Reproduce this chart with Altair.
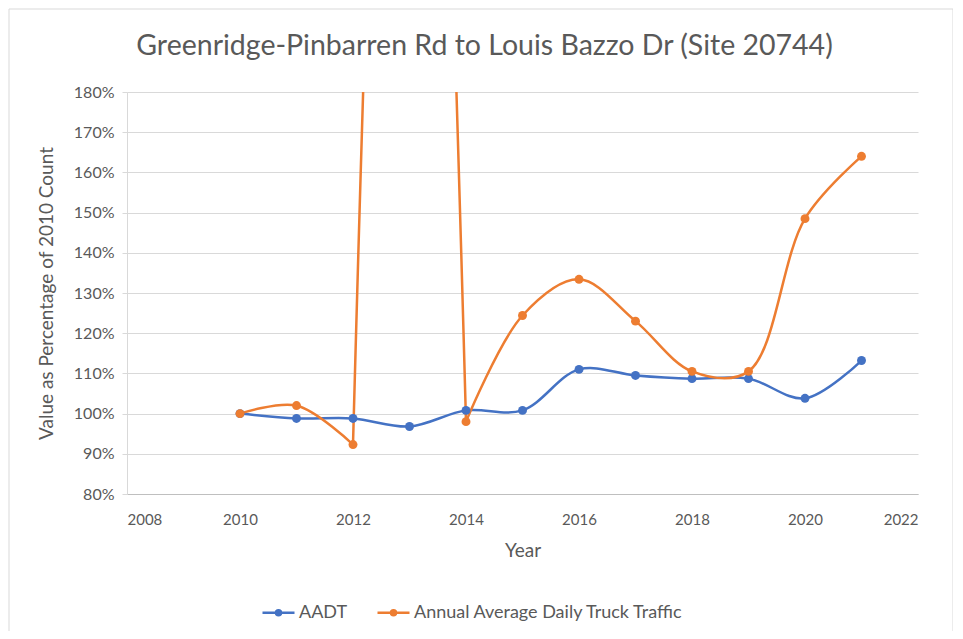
import altair as alt
import pandas as pd

years = [2010, 2011, 2012, 2013, 2014, 2015, 2016, 2017, 2018, 2019, 2020, 2021]
aadt = [1.000, 0.988, 0.988, 0.968, 1.008, 1.008, 1.110, 1.095, 1.087, 1.087, 1.038, 1.132]
truck = [1.000, 1.020, 0.923, 4.40, 0.980, 1.244, 1.334, 1.230, 1.105, 1.105, 1.485, 1.640]
series_names = ["AADT", "Annual Average Daily Truck Traffic"]
colors = ["#4472C4", "#ED7D31"]
y_ticks = [0.8, 0.9, 1.0, 1.1, 1.2, 1.3, 1.4, 1.5, 1.6, 1.7, 1.8]
x_ticks = [2008, 2010, 2012, 2014, 2016, 2018, 2020, 2022]
# the orange curve is drawn in pieces so the off-scale 2013 spike keeps its wide shape
spike_years = [2012, 2013, 2014]

pts_rows = []
for y, v in zip(years, aadt):
    pts_rows.append({"Year": y, "Value": v, "Series": series_names[0]})
for y, v in zip(years, truck):
    pts_rows.append({"Year": y, "Value": v, "Series": series_names[1]})
pts_df = pd.DataFrame(pts_rows)

line_rows = []
for y, v in zip(years, aadt):
    line_rows.append({"Year": y, "Value": v, "Series": series_names[0], "Piece": "a"})
for y, v in zip(years, truck):
    if y <= spike_years[0]:
        line_rows.append({"Year": y, "Value": v, "Series": series_names[1], "Piece": "b1"})
    if y >= spike_years[-1]:
        line_rows.append({"Year": y, "Value": v, "Series": series_names[1], "Piece": "b3"})
    if y in spike_years:
        line_rows.append({"Year": y, "Value": v, "Series": series_names[1], "Piece": "spike"})
line_df = pd.DataFrame(line_rows)

FONT = "Lato"
GRAY = "#595959"

x = alt.X("Year:Q", scale=alt.Scale(domain=[2008, 2022], nice=False),
          axis=alt.Axis(values=x_ticks, format="d", title="Year", grid=False,
                        ticks=False, domainColor="#bfbfbf", labelPadding=18,
                        titlePadding=14))
y = alt.Y("Value:Q", scale=alt.Scale(domain=[0.8, 1.8], nice=False, zero=False),
          axis=alt.Axis(values=y_ticks, format=".0%", title="Value as Percentage of 2010 Count",
                        gridColor="#d9d9d9", ticks=True, tickColor="#d9d9d9", tickSize=5,
                        domainColor="#d9d9d9", labelPadding=8, labelFontSize=16,
                        titlePadding=17))
color = alt.Color("Series:N", scale=alt.Scale(domain=series_names, range=colors),
                  legend=alt.Legend(orient="none", legendX=140, legendY=509, direction="horizontal",
                                    title=None, labelLimit=0,
                                    symbolType="M-1.6,0H1.6M-0.25,0A0.25,0.25,0,1,0,0.25,0A0.25,0.25,0,1,0,-0.25,0",
                                    symbolSize=400, symbolStrokeWidth=2.5, columnPadding=24,
                                    labelFontSize=18, labelColor=GRAY, labelFont=FONT,
                                    labelOffset=9))

lbase = alt.Chart(line_df)
line_main = lbase.transform_filter(alt.datum.Piece != "spike").mark_line(
    interpolate="catmull-rom", strokeWidth=2.5, clip=True
).encode(x=x, y=y, color=color, detail="Piece:N")
line_spike = lbase.transform_filter(alt.datum.Piece == "spike").mark_line(
    interpolate="cardinal", strokeWidth=2.5, clip=True
).encode(x=x, y=y, color=color, detail="Piece:N")
pts = alt.Chart(pts_df).mark_point(filled=True, size=80, opacity=1, clip=True).encode(
    x=x, y=y, color=color)

border = alt.Chart(pd.DataFrame({"a": [0]})).mark_rect(
    fill=None, stroke="#d9d9d9", strokeWidth=1, clip=False
).encode(x=alt.value(-118), x2=alt.value(826), y=alt.value(-83), y2=alt.value(540))

chart = alt.layer(border, line_main, line_spike, pts).properties(
    width=791, height=402,
    title=alt.TitleParams("Greenridge-Pinbarren Rd to Louis Bazzo Dr (Site 20744)",
                          fontSize=28.5, font=FONT, color=GRAY, fontWeight="normal",
                          anchor="middle", frame="group", dx=-38, offset=-52),
    autosize=alt.AutoSizeParams(type="none"),
    padding={"left": 119, "top": 84, "right": 35, "bottom": 137},
).configure_axis(
    labelFont=FONT, titleFont=FONT, labelFontSize=15, titleFontSize=19,
    labelColor=GRAY, titleColor=GRAY, titleFontWeight="normal"
).configure_view(stroke=None)

chart.save("out.html", embed_options={"renderer": "svg", "actions": False})
